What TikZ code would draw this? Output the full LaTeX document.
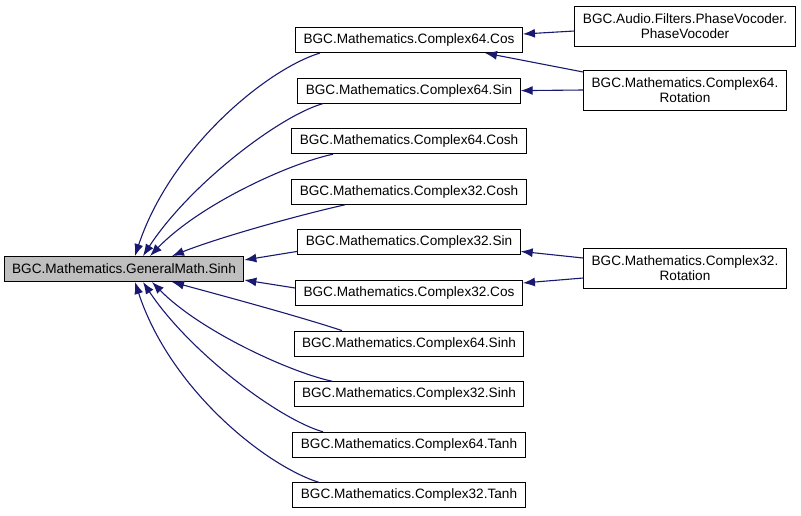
\documentclass[tikz,border=0pt]{standalone}
\usepackage{fontspec}
\setmainfont{Liberation Sans}
\usetikzlibrary{arrows.meta, math}
\definecolor{callblue}{RGB}{25,25,112}
\definecolor{maingray}{RGB}{191,191,191}

\begin{document}
\begin{tikzpicture}[x=1pt, y=-1pt,
  box/.style={draw=black, line width=1pt, fill=white, inner xsep=8pt, inner ysep=0pt,
    minimum height=25pt, font=\fontsize{13.6}{15}\selectfont},
  twobox/.style={box, minimum height=40pt, align=center},
  callarrow/.style={draw=callblue, line width=1.1pt, -{Latex[length=12pt,width=9pt]}}]
\tikzmath{
\cx=409;
\rx=685;
\ytop=40;
\dy=50.6;
}
\useasboundingbox (0,0) rectangle (801,515);

\node[box, fill=maingray] (sinh) at (124,269) {BGC.Mathematics.GeneralMath.Sinh};

\node[box] (cos64) at ({\cx},{\ytop}) {BGC.Mathematics.Complex64.Cos};
\node[box] (sin64) at ({\cx},{\ytop+\dy}) {BGC.Mathematics.Complex64.Sin};
\node[box] (cosh64) at ({\cx},{\ytop+2*\dy}) {BGC.Mathematics.Complex64.Cosh};
\node[box] (cosh32) at ({\cx},{\ytop+3*\dy}) {BGC.Mathematics.Complex32.Cosh};
\node[box] (sin32) at ({\cx},{\ytop+4*\dy}) {BGC.Mathematics.Complex32.Sin};
\node[box] (cos32) at ({\cx},{\ytop+5*\dy}) {BGC.Mathematics.Complex32.Cos};
\node[box] (sinh64) at ({\cx},{\ytop+6*\dy}) {BGC.Mathematics.Complex64.Sinh};
\node[box] (sinh32) at ({\cx},{\ytop+7*\dy}) {BGC.Mathematics.Complex32.Sinh};
\node[box] (tanh64) at ({\cx},{\ytop+8*\dy}) {BGC.Mathematics.Complex64.Tanh};
\node[box] (tanh32) at ({\cx},{\ytop+9*\dy}) {BGC.Mathematics.Complex32.Tanh};

\node[twobox] (vocoder) at ({\rx},26) {BGC.Audio.Filters.PhaseVocoder.\\PhaseVocoder};
\node[twobox] (rot64) at ({\rx},90) {BGC.Mathematics.Complex64.\\Rotation};
\node[twobox] (rot32) at ({\rx},268) {BGC.Mathematics.Complex32.\\Rotation};

\draw[callarrow] ([xshift=-89pt]cos64.south) .. controls +(-55,17) and +(35,-106) .. ([xshift=11pt]sinh.north);
\draw[callarrow] ([xshift=-86pt]sin64.south) .. controls +(-43,12) and +(47,-72) .. ([xshift=19pt]sinh.north);
\draw[callarrow] ([xshift=-76pt]cosh64.south) .. controls +(-43,9) and +(50,-52) .. ([xshift=26pt]sinh.north);
\draw[callarrow] ([xshift=-64pt]cosh32.south) .. controls +(-45,10) and +(48,-19) .. ([xshift=48pt]sinh.north);
\draw[callarrow] ([yshift=-9pt]sin32.west) -- ([yshift=9pt]sinh.east);
\draw[callarrow] ([yshift=5pt]cos32.west) -- ([yshift=-11pt]sinh.east);
\draw[callarrow] ([xshift=-67pt]sinh64.north) .. controls +(-42,-14) and +(48,13) .. ([xshift=48pt]sinh.south);
\draw[callarrow] ([xshift=-77pt]sinh32.north) .. controls +(-42,-9) and +(48,49) .. ([xshift=28pt]sinh.south);
\draw[callarrow] ([xshift=-86pt]tanh64.north) .. controls +(-43,-12) and +(47,71) .. ([xshift=19pt]sinh.south);
\draw[callarrow] ([xshift=-90pt]tanh32.north) .. controls +(-54,-17) and +(35,107) .. ([xshift=11pt]sinh.south);

\draw[callarrow] ([yshift=-5pt]vocoder.west) -- ([yshift=6pt]cos64.east);
\draw[callarrow] ([yshift=18pt]rot64.west) -- ([xshift=76pt]cos64.south);
\draw[callarrow] (rot64.west) -- (sin64.east);
\draw[callarrow] ([yshift=10pt]rot32.west) -- ([yshift=-9pt]sin32.east);
\draw[callarrow] ([yshift=-10pt]rot32.west) -- ([yshift=10pt]cos32.east);
\end{tikzpicture}
\end{document}
